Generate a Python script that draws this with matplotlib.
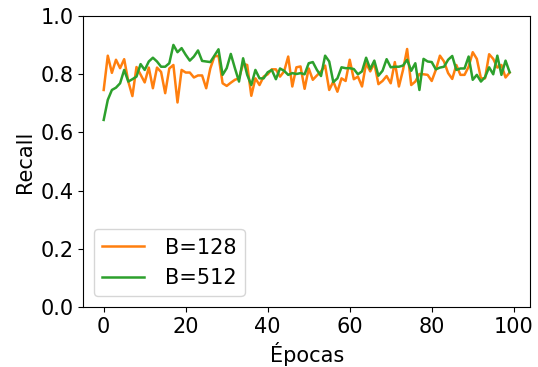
"""Recall per epoch for two batch sizes."""

import matplotlib
matplotlib.use("Agg")
import matplotlib.pyplot as plt

EPOCHS = list(range(100))

RECALL_B128 = [
    0.746, 0.864, 0.805, 0.850, 0.821, 0.852, 0.775, 0.725, 0.825, 0.799,
    0.772, 0.823, 0.752, 0.823, 0.808, 0.735, 0.820, 0.832, 0.703, 0.815,
    0.806, 0.806, 0.789, 0.796, 0.796, 0.752, 0.820, 0.861, 0.864, 0.769,
    0.760, 0.771, 0.781, 0.786, 0.836, 0.832, 0.726, 0.786, 0.763, 0.792,
    0.800, 0.817, 0.817, 0.792, 0.810, 0.861, 0.758, 0.824, 0.827, 0.750,
    0.820, 0.781, 0.796, 0.810, 0.830, 0.746, 0.775, 0.740, 0.786, 0.777,
    0.850, 0.783, 0.792, 0.758, 0.838, 0.810, 0.838, 0.766, 0.777, 0.794,
    0.769, 0.842, 0.758, 0.815, 0.887, 0.763, 0.775, 0.801, 0.800, 0.798,
    0.777, 0.815, 0.864, 0.844, 0.804, 0.784, 0.832, 0.798, 0.798, 0.826,
    0.876, 0.853, 0.786, 0.786, 0.869, 0.853, 0.823, 0.832, 0.789, 0.806,
]

RECALL_B512 = [
    0.643, 0.712, 0.746, 0.754, 0.769, 0.815, 0.775, 0.783, 0.792, 0.835,
    0.815, 0.844, 0.857, 0.844, 0.826, 0.826, 0.838, 0.901, 0.876, 0.890,
    0.867, 0.847, 0.861, 0.882, 0.846, 0.844, 0.842, 0.864, 0.886, 0.798,
    0.821, 0.870, 0.821, 0.775, 0.855, 0.798, 0.763, 0.815, 0.786, 0.786,
    0.807, 0.815, 0.783, 0.820, 0.812, 0.798, 0.804, 0.801, 0.804, 0.800,
    0.838, 0.842, 0.815, 0.794, 0.864, 0.844, 0.773, 0.786, 0.824, 0.821,
    0.821, 0.818, 0.800, 0.810, 0.857, 0.818, 0.847, 0.795, 0.812, 0.852,
    0.824, 0.826, 0.826, 0.830, 0.850, 0.812, 0.838, 0.746, 0.853, 0.844,
    0.842, 0.817, 0.823, 0.826, 0.850, 0.863, 0.815, 0.820, 0.820, 0.861,
    0.781, 0.798, 0.775, 0.790, 0.824, 0.800, 0.864, 0.798, 0.847, 0.807,
]

SERIES = [("B=128", RECALL_B128, "tab:orange"), ("B=512", RECALL_B512, "tab:green")]


def main() -> None:
    plt.rcParams["font.size"] = 15
    fig, ax = plt.subplots(figsize=(5.38, 3.67), dpi=100)
    fig.subplots_adjust(left=0.155, right=0.985, top=0.956, bottom=0.164)

    for label, values, color in SERIES:
        ax.plot(EPOCHS, values, color=color, linewidth=1.8, label=label)

    ax.set_ylim(0, 1)
    ax.set_xticks([0, 20, 40, 60, 80, 100])
    ax.set_yticks([0.0, 0.2, 0.4, 0.6, 0.8, 1.0])
    ax.set_xlabel("Épocas")
    ax.set_ylabel("Recall")
    ax.legend(loc="lower left", handletextpad=1.0)

    fig.savefig("out.png", dpi=100)


if __name__ == "__main__":
    main()
